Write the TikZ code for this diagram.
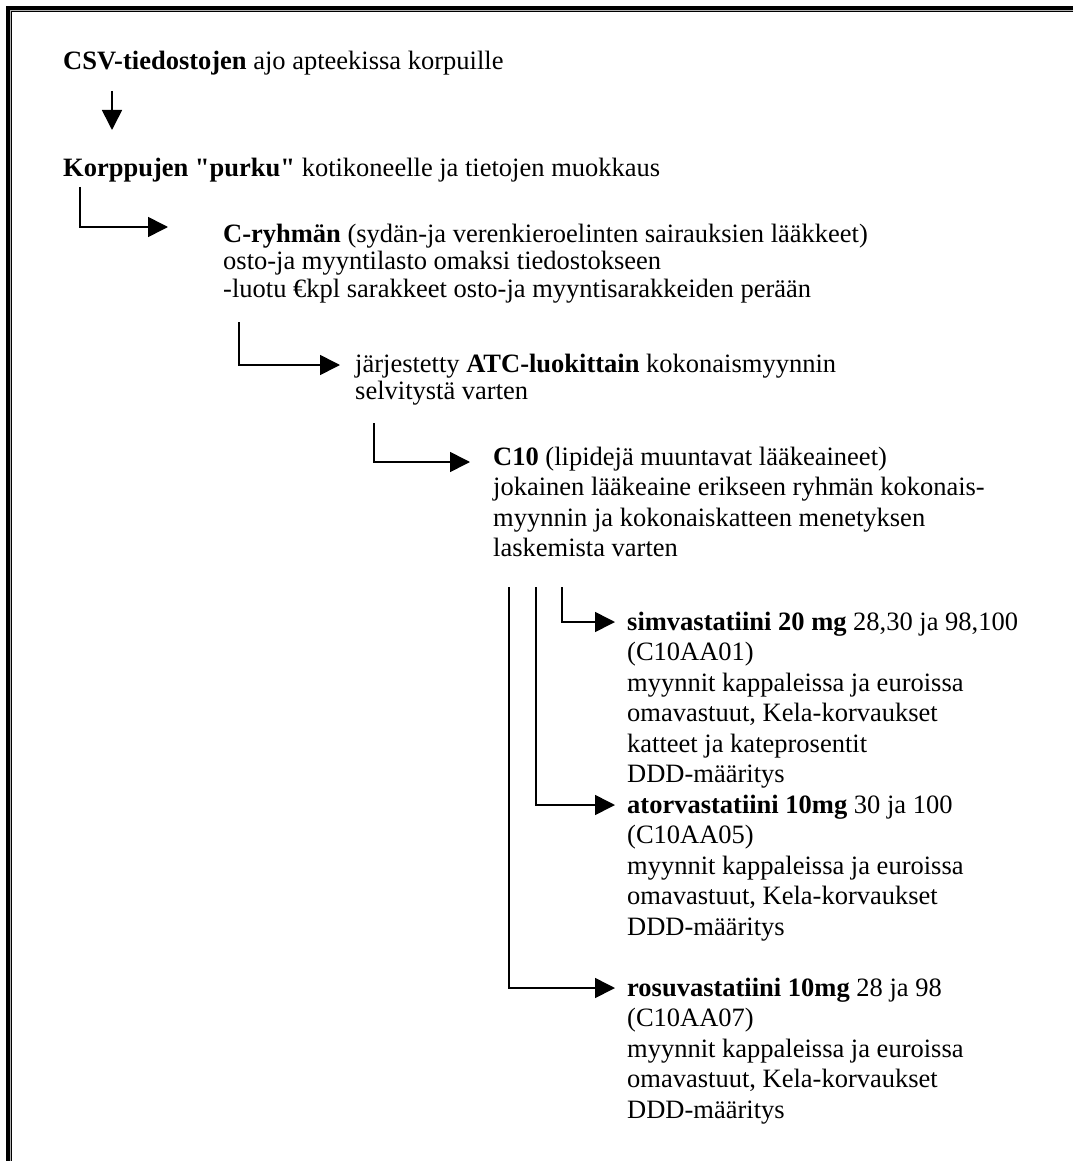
\documentclass[tikz,border=0pt]{standalone}
\usepackage{fontspec}
\setmainfont{Liberation Serif}
\usepackage{tikz}
\usetikzlibrary{positioning,arrows.meta}

% text lines, first line on the node's baseline
\newcommand{\txtlines}[1]{\begin{tabular}[t]{@{}l@{}}#1\end{tabular}}

\begin{document}
\begin{tikzpicture}[x=1pt,y=-1pt,
    txt/.style={
        anchor=base west,
        inner sep=0pt,
        font=\fontsize{26.5}{27.5}\selectfont
    },
    txtwide/.style={
        txt,
        font=\fontsize{26.5}{30.5}\selectfont
    },
    arrow/.style={-{Triangle[length=20pt,width=20pt]}, line width=1.6pt}
]
\useasboundingbox (0,0) rectangle (1073,1161);
% double frame, top and left only
\draw[line width=4pt] (1073,8) -- (8,8) -- (8,1161);
\draw[line width=1pt, gray!60] (1073,10.5) -- (10.5,10.5) -- (10.5,1161);
\draw[line width=1.2pt] (1073,11.8) -- (11.8,11.8) -- (11.8,1161);

\node[txt] (csv) at (63,70) {\textbf{CSV-tiedostojen} ajo apteekissa korpuille};
\node[txt] (purku) at (63,177) {\textbf{Korppujen \textquotedbl purku\textquotedbl} kotikoneelle ja tietojen muokkaus};
\node[txt] (cryhma) at (223,242) {\txtlines{\textbf{C-ryhmän} (sydän-ja verenkieroelinten sairauksien lääkkeet)\\osto-ja myyntilasto omaksi tiedostokseen\\-luotu €kpl sarakkeet osto-ja myyntisarakkeiden perään}};
\node[txt] (atc) at (355,372) {\txtlines{järjestetty \textbf{ATC-luokittain} kokonaismyynnin\\selvitystä varten}};
\node[txtwide] (c10) at (493,465) {\txtlines{\textbf{C10} (lipidejä muuntavat lääkeaineet)\\jokainen lääkeaine erikseen ryhmän kokonais-\\myynnin ja kokonaiskatteen menetyksen\\laskemista varten}};
\node[txtwide] (simva) at (627,630) {\txtlines{\textbf{simvastatiini 20 mg} 28,30 ja 98,100\\(C10AA01)\\myynnit kappaleissa ja euroissa\\omavastuut, Kela-korvaukset\\katteet ja kateprosentit\\DDD-määritys}};
\node[txtwide] (atorva) at (627,813) {\txtlines{\textbf{atorvastatiini 10mg} 30 ja 100\\(C10AA05)\\myynnit kappaleissa ja euroissa\\omavastuut, Kela-korvaukset\\DDD-määritys}};
\node[txtwide] (rosuva) at (627,996) {\txtlines{\textbf{rosuvastatiini 10mg} 28 ja 98\\(C10AA07)\\myynnit kappaleissa ja euroissa\\omavastuut, Kela-korvaukset\\DDD-määritys}};

\draw[arrow] ([xshift=49pt,yshift=-21pt]csv.base west) -- ([xshift=49pt,yshift=47pt]purku.base west);
\draw[arrow] ([xshift=17pt,yshift=-10pt]purku.base west) |- ([xshift=-55pt,yshift=15pt]cryhma.base west);
\draw[arrow] ([xshift=16pt,yshift=-80pt]cryhma.base west) |- ([xshift=-15pt,yshift=7pt]atc.base west);
\draw[arrow] ([xshift=19pt,yshift=-51pt]atc.base west) |- ([xshift=-23pt,yshift=3pt]c10.base west);
\draw[arrow] ([xshift=69pt,yshift=-122pt]c10.base west) |- ([xshift=-12pt,yshift=8pt]simva.base west);
\draw[arrow] ([xshift=43pt,yshift=-122pt]c10.base west) |- ([xshift=-12pt,yshift=8pt]atorva.base west);
\draw[arrow] ([xshift=16pt,yshift=-122pt]c10.base west) |- ([xshift=-12pt,yshift=8pt]rosuva.base west);
\end{tikzpicture}
\end{document}
